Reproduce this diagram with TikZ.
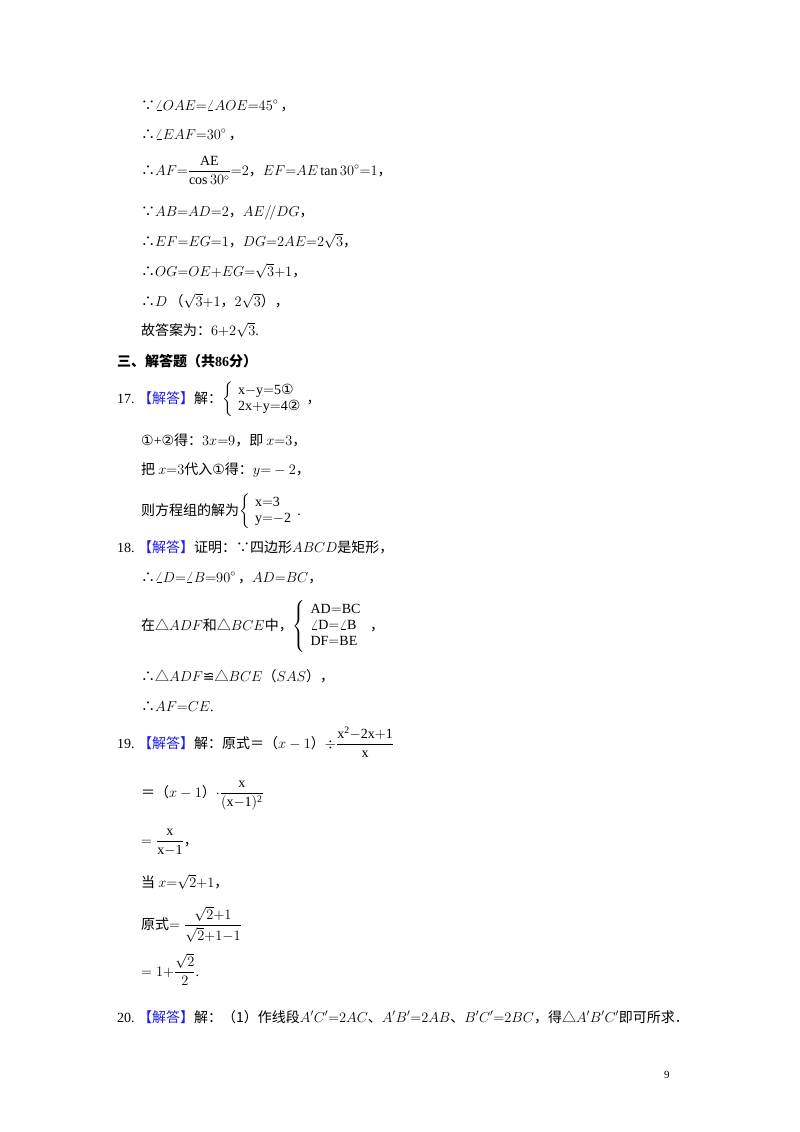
\documentclass[tikz,border=0pt]{standalone}
\usepackage{fontspec}
\usepackage{amsmath}
\setmainfont{Liberation Serif}
\newfontfamily\cj{Noto Sans CJK SC}
\newfontfamily\djv{DejaVu Sans}
\definecolor{jd}{RGB}{30,30,230}
\newcommand{\JD}{{\cj\color{jd}【解答】}}
\newcommand{\cir}[1]{{\djv #1}}
\newcommand{\cm}{{\cj ，}}
\begin{document}
\begin{tikzpicture}[x=1pt,y=-1pt,every node/.style={anchor=base west,inner sep=0pt,font=\fontsize{14}{16}\selectfont}]
\useasboundingbox (0,0) rectangle (800,1132);
\node (l1) at (141,110) {{\cj ∵}$\angle OAE{=}\angle AOE{=}45^\circ$\,\cm};
\node (l2) at (141,139) {{\cj ∴}$\angle EAF{=}30^\circ$\,\cm};
\node (l3) at (141,175) {{\cj ∴}$AF{=}\dfrac{\mathrm{AE}}{\cos30^\circ}{=}2$\cm$EF{=}AE\tan30^\circ{=}1$\cm};
\node (l4) at (141,216) {{\cj ∵}$AB{=}AD{=}2$\cm$AE/\!/DG$\cm};
\node (l5) at (141,246) {{\cj ∴}$EF{=}EG{=}1$\cm$DG{=}2AE{=}2\sqrt3$\cm};
\node (l6) at (141,276) {{\cj ∴}$OG{=}OE{+}EG{=}\sqrt3{+}1$\cm};
\node (l7) at (141,306) {{\cj ∴}$D$\,{\cj （}$\sqrt3{+}1$\cm$2\sqrt3${\cj ）}\cm};
\node (l8) at (141,335) {{\cj 故答案为：}$6{+}2\sqrt3$.};
\node (h) at (117,366) {{\cj\bfseries 三、解答题（共}\textbf{86}{\cj\bfseries 分）}};
\node (p17) at (117,403) {17.\ \JD{\cj 解：}$\left\{\begin{array}{l}\mathrm{x{-}y{=}5}\text{\cir{①}}\\ \mathrm{2x{+}y{=}4}\text{\cir{②}}\end{array}\right.$\cm};
\node (a1) at (141,445) {\cir{①}+\cir{②}{\cj 得：}$3x{=}9${\cj ，即 }$x{=}3$\cm};
\node (a2) at (141,474) {{\cj 把 }$x{=}3${\cj 代入}\cir{①}{\cj 得：}$y{=}-2$\cm};
\node (a3) at (141,515) {{\cj 则方程组的解为}$\left\{\begin{array}{l}\mathrm{x{=}3}\\ \mathrm{y{=}{-}2}\end{array}\right.$.};
\node (p18) at (117,552) {18.\ \JD{\cj 证明：∵四边形}$ABCD${\cj 是矩形，}};
\node (b1) at (141,582) {{\cj ∴}$\angle D{=}\angle B{=}90^\circ$\,\cm$AD{=}BC$\cm};
\node (b2) at (141,630) {{\cj 在△}$ADF${\cj 和△}$BCE${\cj 中，}$\left\{\begin{array}{l}\mathrm{AD{=}BC}\\ \angle\mathrm{D}{=}\angle\mathrm{B}\\ \mathrm{DF{=}BE}\end{array}\right.$\ \cm};
\node (b3) at (141,681) {{\cj ∴△}$ADF${\djv ≌}{\cj △}$BCE${\cj （}$SAS${\cj ）}\cm};
\node (b4) at (141,711) {{\cj ∴}$AF{=}CE$.};
\node (p19) at (117,748) {19.\ \JD{\cj 解：原式＝（}$x-1${\cj ）}$\div\dfrac{\mathrm{x^2{-}2x{+}1}}{\mathrm{x}}$};
\node (c1) at (141,797) {{\cj ＝（}$x-1${\cj ）}$\cdot\dfrac{\mathrm{x}}{\mathrm{(x{-}1)^2}}$};
\node (c2) at (141,845) {$=\dfrac{\mathrm{x}}{\mathrm{x{-}1}}$\cm};
\node (c3) at (141,887) {{\cj 当 }$x{=}\sqrt2{+}1$\cm};
\node (c4) at (141,929) {{\cj 原式}$=\dfrac{\sqrt2{+}1}{\sqrt2{+}1{-}1}$};
\node (c5) at (141,976) {$=1{+}\dfrac{\sqrt2}{2}$.};
\node (p20) at (117,1022) {20.\ \JD{\cj 解：（1）作线段}$A'C'{=}2AC${\cj 、}$A'B'{=}2AB${\cj 、}$B'C'{=}2BC${\cj ，得△}$A'B'C'${\cj 即可所求．}};
\node (pg) at (664,1078) {\fontsize{11}{13}\selectfont 9};
\end{tikzpicture}
\end{document}
